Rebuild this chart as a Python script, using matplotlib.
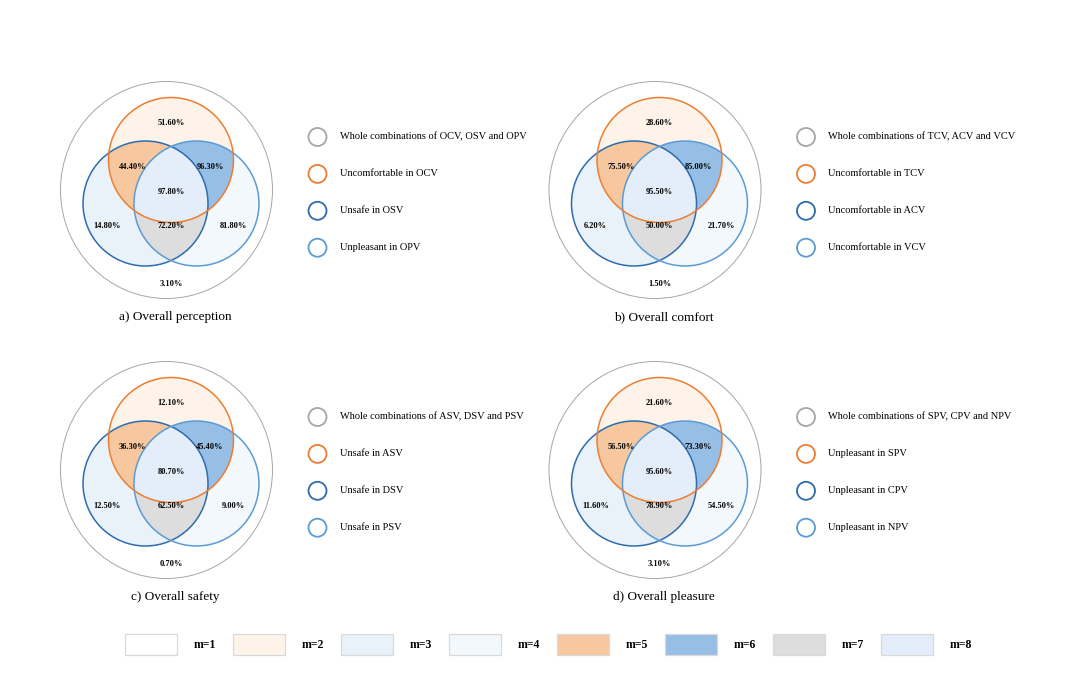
"""
Four Venn panels (perception / comfort / safety / pleasure) with a shared
m=1..8 colour key along the bottom.
"""

import numpy as np
import matplotlib
matplotlib.use('Agg')
import matplotlib.pyplot as plt
from matplotlib.patches import Circle, Ellipse, Rectangle, Polygon

plt.rcParams['font.family'] = ['Liberation Serif', 'DejaVu Serif']

# ── Data (percent per region, ordered m=1 .. m=8) ─────────────────────────
# m=1 outside, m=2 top only, m=3 left only, m=4 right only,
# m=5 top&left, m=6 top&right, m=7 left&right, m=8 all three
VALS_A = [3.10, 51.60, 14.80, 81.80, 44.40, 96.30, 72.20, 97.80]
VALS_B = [1.50, 28.60, 6.20, 21.70, 75.50, 85.00, 50.00, 95.50]
VALS_C = [0.70, 12.10, 12.50, 9.00, 36.30, 45.40, 62.50, 80.70]
VALS_D = [3.10, 21.60, 11.60, 54.50, 56.50, 73.30, 78.90, 95.60]

TITLES = ['a) Overall perception', 'b) Overall comfort',
          'c) Overall safety', 'd) Overall pleasure']

LEG_A = ['Whole combinations of OCV, OSV and OPV', 'Uncomfortable in OCV',
         'Unsafe in OSV', 'Unpleasant in OPV']
LEG_B = ['Whole combinations of TCV, ACV and VCV', 'Uncomfortable in TCV',
         'Uncomfortable in ACV', 'Uncomfortable in VCV']
LEG_C = ['Whole combinations of ASV, DSV and PSV', 'Unsafe in ASV',
         'Unsafe in DSV', 'Unsafe in PSV']
LEG_D = ['Whole combinations of SPV, CPV and NPV', 'Unpleasant in SPV',
         'Unpleasant in CPV', 'Unpleasant in NPV']

M_LABELS = ['m=1', 'm=2', 'm=3', 'm=4', 'm=5', 'm=6', 'm=7', 'm=8']

# ── Colours ───────────────────────────────────────────────────────────────
M_COLORS = ['#FFFFFF', '#FDF3E9', '#EAF2F9', '#F3F8FD',
            '#F7C8A0', '#97BFE5', '#DDDDDD', '#E3EEFA']
C_OUTER = '#A6A6A6'
C_ORANGE = '#ED7D31'
C_DKBLUE = '#2E6CAD'
C_LTBLUE = '#5B9BD5'
EDGE_COLORS = [C_OUTER, C_ORANGE, C_DKBLUE, C_LTBLUE]

# ── Geometry (pixel space, relative to top-circle centre) ─────────────────
R = 62.5
TOP = (0.0, 0.0)
LEFT = (-25.5, 43.5)
RIGHT = (25.5, 43.5)
OUTER = (-4.5, 30.0, 212, 217)
LABEL_OFF = [(0, 124), (0, -37), (-64, 65.5), (62, 65.5),
             (-38.5, 7), (39, 7), (0, 65.5), (0, 31.5)]
PANEL_ORIGIN = [(171, 160), (659.5, 160), (171, 440), (659.5, 440)]


def _lens(cx, cy):
    """Left&right circle intersection as a polygon."""
    d2 = (RIGHT[0] - LEFT[0]) / 2
    th = np.arccos(d2 / R)
    a1 = np.linspace(-th, th, 80)
    a2 = np.linspace(np.pi - th, np.pi + th, 80)
    xs = np.concatenate([cx + LEFT[0] + R * np.cos(a1),
                         cx + RIGHT[0] + R * np.cos(a2)])
    ys = np.concatenate([cy + LEFT[1] + R * np.sin(a1),
                         cy + RIGHT[1] + R * np.sin(a2)])
    return np.column_stack([xs, ys])


def draw_venn(ax, ox, oy, vals, title, legend):
    def pos(p):
        return (ox + p[0], oy + p[1])

    ax.add_patch(Ellipse((ox + OUTER[0], oy + OUTER[1]), OUTER[2], OUTER[3],
                         facecolor='white', edgecolor=C_OUTER, lw=0.7, zorder=1))
    ax.add_patch(Circle(pos(LEFT), R, facecolor=M_COLORS[2], lw=0, zorder=2))
    ax.add_patch(Circle(pos(RIGHT), R, facecolor=M_COLORS[3], lw=0, zorder=2))
    ax.add_patch(Circle(pos(TOP), R, facecolor=M_COLORS[1], lw=0, zorder=3))

    clip_top = Circle(pos(TOP), R, transform=ax.transData)
    p5 = Circle(pos(LEFT), R, facecolor=M_COLORS[4], lw=0, zorder=4)
    p6 = Circle(pos(RIGHT), R, facecolor=M_COLORS[5], lw=0, zorder=4)
    ax.add_patch(p5)
    ax.add_patch(p6)
    p5.set_clip_path(clip_top)
    p6.set_clip_path(clip_top)

    lens = _lens(ox, oy)
    ax.add_patch(Polygon(lens, closed=True, facecolor=M_COLORS[6], lw=0, zorder=5))
    p8 = Polygon(lens, closed=True, facecolor=M_COLORS[7], lw=0, zorder=6)
    ax.add_patch(p8)
    p8.set_clip_path(Circle(pos(TOP), R, transform=ax.transData))

    # outlines
    ax.add_patch(Circle(pos(LEFT), R, fill=False, edgecolor=C_DKBLUE, lw=1.1, zorder=7))
    ax.add_patch(Circle(pos(RIGHT), R, fill=False, edgecolor=C_LTBLUE, lw=1.1, zorder=7))
    ax.add_patch(Circle(pos(TOP), R, fill=False, edgecolor=C_ORANGE, lw=1.1, zorder=8))

    for v, (dx, dy) in zip(vals, LABEL_OFF):
        ax.text(ox + dx, oy + dy, f'{v:.2f}%', fontsize=6, fontweight='bold',
                ha='center', va='center', zorder=10)

    ax.text(ox + 4, oy + 157, title, fontsize=9.5, ha='center', va='center')

    # panel legend
    for i, (lab, col) in enumerate(zip(legend, EDGE_COLORS)):
        ly = oy - 23 + i * 36.9
        ax.add_patch(Circle((ox + 146.5, ly), 9, fill=False, edgecolor=col,
                            lw=1.3, zorder=3))
        ax.text(ox + 169, ly, lab, fontsize=7.5, ha='left', va='center')


fig = plt.figure(figsize=(10.8, 6.75), dpi=100)
fig.patch.set_facecolor('white')
ax = fig.add_axes([0, 0, 1, 1])
ax.set_xlim(0, 1080)
ax.set_ylim(675, 0)
ax.axis('off')

for (ox, oy), vals, title, leg in zip(PANEL_ORIGIN,
                                      [VALS_A, VALS_B, VALS_C, VALS_D],
                                      TITLES, [LEG_A, LEG_B, LEG_C, LEG_D]):
    draw_venn(ax, ox, oy, vals, title, leg)

# ── Bottom colour key ─────────────────────────────────────────────────────
for i, (lab, col) in enumerate(zip(M_LABELS, M_COLORS)):
    x0 = 125 + 108 * i
    ax.add_patch(Rectangle((x0, 634), 52, 20.5, facecolor=col,
                           edgecolor='#D9D9D9', lw=0.9))
    ax.text(x0 + 80, 644.5, lab, fontsize=8.5, fontweight='bold',
            ha='center', va='center')

fig.savefig('out.png', dpi=100, facecolor='white')
